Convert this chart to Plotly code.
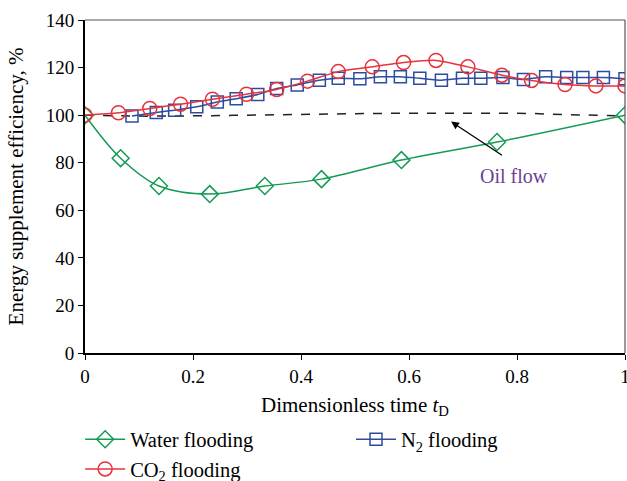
import plotly.graph_objects as go

# Data
water_t = [0, 0.066, 0.137, 0.231, 0.333, 0.438, 0.586, 0.763, 1.0]
water_v = [100, 81.9, 70.2, 66.8, 70.2, 73.1, 81.1, 88.7, 100]

co2_t = [0, 0.062, 0.12, 0.177, 0.236, 0.299, 0.355, 0.412, 0.469, 0.532,
         0.590, 0.650, 0.709, 0.772, 0.827, 0.889, 0.946, 1.0]
co2_v = [100, 101.0, 102.8, 104.6, 106.7, 108.8, 110.8, 114.3, 118.3, 120.3,
         122.1, 123.0, 120.3, 116.8, 114.6, 112.9, 112.3, 112.3]

n2_t = [0.087, 0.132, 0.166, 0.207, 0.245, 0.280, 0.320, 0.355, 0.393, 0.434,
        0.469, 0.509, 0.547, 0.584, 0.620, 0.660, 0.699, 0.733, 0.774, 0.812,
        0.853, 0.892, 0.922, 0.960, 1.0]
n2_v = [99.6, 101.1, 102.1, 103.5, 105.5, 106.9, 108.7, 111.2, 112.7, 114.7,
        115.5, 115.3, 116.1, 116.1, 115.5, 114.7, 115.5, 115.5, 115.8, 115.0,
        116.1, 115.8, 115.8, 115.8, 115.3]

oil_t = [0, 0.1, 0.2, 0.3, 0.4, 0.5, 0.6, 0.7, 0.8, 0.9, 1.0]
oil_v = [100, 99.6, 99.7, 100.0, 100.3, 100.6, 100.8, 100.8, 100.8, 100.2, 99.7]

x_ticks = [0, 0.2, 0.4, 0.6, 0.8, 1]
x_tick_labels = ["0", "0.2", "0.4", "0.6", "0.8", "1"]
y_ticks = [0, 20, 40, 60, 80, 100, 120, 140]

GREEN = "#159a55"
RED = "#e8323c"
BLUE = "#2b4c9f"
FONT = "Liberation Serif"

fig = go.Figure()

fig.add_trace(go.Scatter(
    x=oil_t, y=oil_v, mode="lines", showlegend=False,
    line=dict(color="#222222", width=1.5, dash="dash", shape="spline")))

fig.add_trace(go.Scatter(
    x=water_t, y=water_v, mode="lines+markers", name="Water flooding",
    legend="legend",
    line=dict(color=GREEN, width=1.5, shape="spline", smoothing=1.0),
    marker=dict(symbol="diamond-open", size=13, color=GREEN, line=dict(width=1.5))))

fig.add_trace(go.Scatter(
    x=n2_t, y=n2_v, mode="lines+markers", name="N<sub>2</sub> flooding",
    legend="legend2",
    line=dict(color=BLUE, width=1.5, shape="spline", smoothing=0.6),
    marker=dict(symbol="square-open", size=12, color=BLUE, line=dict(width=1.5))))

fig.add_trace(go.Scatter(
    x=co2_t, y=co2_v, mode="lines+markers", name="CO<sub>2</sub> flooding",
    legend="legend",
    line=dict(color=RED, width=1.5, shape="spline", smoothing=0.6),
    marker=dict(symbol="circle-open", size=14, color=RED, line=dict(width=1.5))))

fig.add_annotation(
    x=0.678, y=97.3, ax=0.775, ay=82.7, xref="x", yref="y", axref="x", ayref="y",
    text="", showarrow=True, arrowhead=2, arrowsize=1.2, arrowwidth=1.3,
    arrowcolor="black")
fig.add_annotation(
    x=0.795, y=74.5, xref="x", yref="y", text="Oil flow", showarrow=False,
    font=dict(family=FONT, size=20, color="#6a3f95"))

legend_common = dict(orientation="v", xanchor="left", yref="container",
                     y=0.128, yanchor="top", itemwidth=40,
                     font=dict(family=FONT, size=20.5), tracegroupgap=0,
                     traceorder="normal", bgcolor="rgba(0,0,0,0)")

fig.update_layout(
    width=627, height=481,
    margin=dict(l=85, r=2, t=20, b=128, autoexpand=False),
    paper_bgcolor="white", plot_bgcolor="white",
    font=dict(family=FONT, size=19, color="black"),
    legend=dict(x=-0.009, **legend_common),
    legend2=dict(x=0.4926, **legend_common),
)

fig.update_xaxes(
    range=[0, 1], tickvals=x_ticks, ticktext=x_tick_labels,
    ticks="outside", ticklen=5, tickwidth=1.2, tickcolor="black",
    ticklabeloverflow="allow",
    showline=True, linecolor="black", linewidth=1.5, mirror=False,
    showgrid=False, zeroline=False,
    title=dict(text="Dimensionless time <i>t</i><sub>D</sub>", standoff=14,
               font=dict(family=FONT, size=21)))
fig.update_yaxes(
    range=[0, 140], tickvals=y_ticks,
    ticks="outside", ticklen=5, tickwidth=1.2, tickcolor="black",
    showline=True, linecolor="black", linewidth=2, mirror=False,
    showgrid=False, zeroline=False,
    title=dict(text="Energy supplement efficiency, %", standoff=16,
               font=dict(family=FONT, size=21)))

# thin top/right frame
fig.add_shape(type="line", xref="paper", yref="paper", x0=0, x1=1, y0=1, y1=1,
              line=dict(color="#555555", width=1.2))
fig.add_shape(type="line", xref="paper", yref="paper", x0=1, x1=1, y0=0, y1=1,
              line=dict(color="#555555", width=1.2))

fig.write_html("out.html")
